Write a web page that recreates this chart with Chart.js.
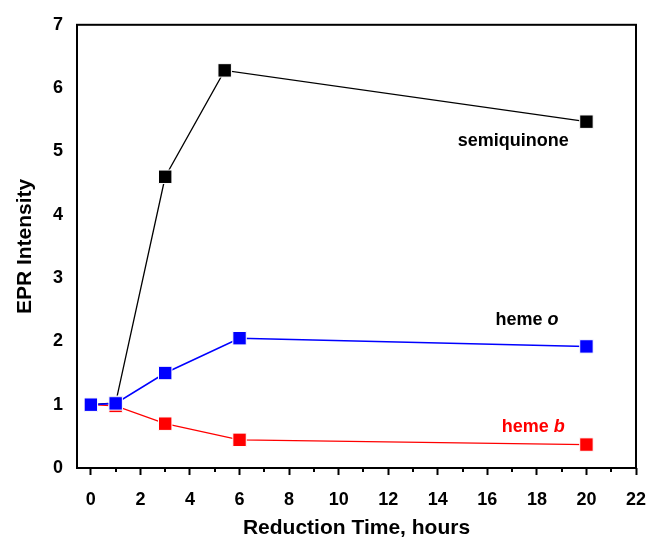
<!DOCTYPE html>
<html>
<head>
<meta charset="utf-8">
<script src="https://cdn.jsdelivr.net/npm/chart.js@4.4.1/dist/chart.umd.min.js"></script>
<style>
  body { margin: 0; background: #fff; }
</style>
</head>
<body>
<canvas id="epr" width="664" height="538"></canvas>
<script>
// reduction time (hours) and normalized EPR intensities
const semiquinoneTime = [0, 1, 3, 5.4, 20];
const semiquinoneValues = [1.0, 1.03, 4.6, 6.28, 5.47];
const hemeOTime = [0, 1, 3, 6, 20];
const hemeOValues = [1.0, 1.02, 1.5, 2.05, 1.92];
const hemeBTime = [0, 1, 3, 6, 20];
const hemeBValues = [1.0, 0.98, 0.7, 0.445, 0.37];

const xTicks = [0, 1, 2, 3, 4, 5, 6, 7, 8, 9, 10, 11, 12, 13, 14, 15, 16, 17, 18, 19, 20, 21, 22];
const yTicks = [0, 1, 2, 3, 4, 5, 6, 7];

// series labels placed in data coordinates
const seriesLabels = ['semiquinone', 'heme o', 'heme b'];
const labelX = [17.05, 17.6, 17.85];
const labelY = [5.17, 2.34, 0.65];
const labelColors = ['#000', '#000', '#ff0000'];

const FONT = '"Liberation Sans", Arial, Helvetica, sans-serif';

const toPoints = (xs, ys) => xs.map((x, i) => ({ x, y: ys[i] }));

const framePlugin = {
  id: 'frame',
  afterDraw(chart) {
    const { ctx, chartArea: a, scales: { x, y } } = chart;
    ctx.save();
    ctx.strokeStyle = '#000';
    ctx.lineWidth = 2;
    ctx.strokeRect(a.left, a.top, a.right - a.left, a.bottom - a.top);

    // short minor ticks at odd hours
    xTicks.filter((v) => v % 2 === 1).forEach((v) => {
      const px = Math.round(x.getPixelForValue(v));
      ctx.beginPath();
      ctx.moveTo(px, a.bottom);
      ctx.lineTo(px, a.bottom + 4);
      ctx.stroke();
    });

    // series names
    ctx.textBaseline = 'middle';
    seriesLabels.forEach((txt, i) => {
      const px = x.getPixelForValue(labelX[i]);
      const py = y.getPixelForValue(labelY[i]);
      ctx.fillStyle = labelColors[i];
      if (txt.startsWith('heme ')) {
        const head = 'heme ';
        const tail = txt.slice(5);
        ctx.font = `bold 18px ${FONT}`;
        const w1 = ctx.measureText(head).width;
        ctx.font = `italic bold 18px ${FONT}`;
        const w2 = ctx.measureText(tail).width;
        const start = px - (w1 + w2) / 2;
        ctx.textAlign = 'left';
        ctx.font = `bold 18px ${FONT}`;
        ctx.fillText(head, start, py);
        ctx.font = `italic bold 18px ${FONT}`;
        ctx.fillText(tail, start + w1, py);
      } else {
        ctx.textAlign = 'center';
        ctx.font = `bold 18px ${FONT}`;
        ctx.fillText(txt, px, py);
      }
    });
    ctx.restore();
  }
};

const pointStyleFor = (color) => ({
  borderColor: color,
  backgroundColor: color,
  pointStyle: 'rect',
  pointRadius: 9.5,
  pointHoverRadius: 9.5,
  pointBackgroundColor: color,
  pointBorderColor: '#fff',
  pointBorderWidth: 1
});

// eslint-disable-next-line no-new
new Chart(document.getElementById('epr'), {
  type: 'line',
  data: {
    datasets: [{
      label: 'heme o',
      data: toPoints(hemeOTime, hemeOValues),
      borderWidth: 1.6,
      order: 0,
      ...pointStyleFor('#0000ff')
    }, {
      label: 'heme b',
      data: toPoints(hemeBTime, hemeBValues),
      borderWidth: 1.2,
      order: 1,
      ...pointStyleFor('#ff0000')
    }, {
      label: 'semiquinone',
      data: toPoints(semiquinoneTime, semiquinoneValues),
      borderWidth: 1.3,
      order: 2,
      ...pointStyleFor('#000000')
    }]
  },
  options: {
    responsive: false,
    animation: false,
    clip: false,
    layout: { padding: { top: 17, right: 28, left: 0, bottom: 0 } },
    plugins: {
      legend: { display: false },
      tooltip: { enabled: false }
    },
    scales: {
      x: {
        type: 'linear',
        min: -0.56,
        max: 22,
        afterBuildTicks: (scale) => { scale.ticks = xTicks.map((v) => ({ value: v })); },
        afterFit: (scale) => { scale.height = 70; },
        border: { display: false },
        grid: {
          drawOnChartArea: false,
          drawTicks: true,
          tickLength: 7,
          tickWidth: 2,
          tickColor: (ctx) => (ctx.tick && ctx.tick.value % 2 === 0 ? '#000' : 'rgba(0,0,0,0)')
        },
        ticks: {
          autoSkip: false,
          maxRotation: 0,
          padding: 14,
          color: '#000',
          font: { family: FONT, size: 18, weight: 'bold' },
          callback: (v) => (v % 2 === 0 ? String(v) : '')
        },
        title: {
          display: true,
          text: 'Reduction Time, hours',
          color: '#000',
          padding: { top: 0, bottom: 0 },
          font: { family: FONT, size: 21, weight: 'bold', lineHeight: 0.9 }
        }
      },
      y: {
        min: 0,
        max: 7,
        afterBuildTicks: (scale) => { scale.ticks = yTicks.map((v) => ({ value: v })); },
        afterFit: (scale) => { scale.width = 77; },
        border: { display: false },
        grid: { display: false, drawTicks: false },
        ticks: {
          padding: 14,
          color: '#000',
          font: { family: FONT, size: 18, weight: 'bold' }
        },
        title: {
          display: true,
          text: 'EPR Intensity',
          color: '#000',
          padding: { top: 15, bottom: 0 },
          font: { family: FONT, size: 21, weight: 'bold', lineHeight: 1 }
        }
      }
    }
  },
  plugins: [framePlugin]
});
</script>
</body>
</html>
